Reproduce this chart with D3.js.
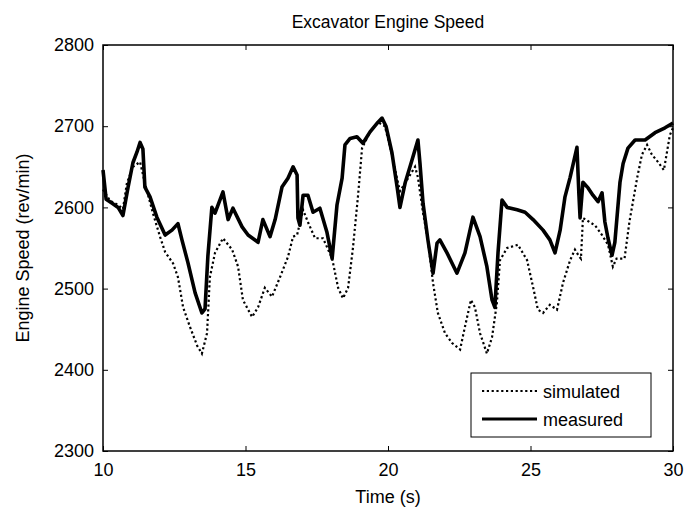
<!DOCTYPE html>
<html>
<head>
<meta charset="utf-8">
<script src="https://cdn.jsdelivr.net/npm/d3@7"></script>
<style>
  body { margin: 0; background: #fff; }
  text { font-family: "Liberation Sans", Arial, sans-serif; fill: #000; }
</style>
</head>
<body>
<svg id="chart" width="685" height="510"></svg>
<script>
// measured engine speed (rev/min) vs time (s)
const measuredTime = [10.00, 10.11, 10.32, 10.53, 10.70, 10.88, 11.05, 11.19, 11.30, 11.40, 11.47, 11.65, 11.89, 12.18, 12.42, 12.63, 12.77, 12.98, 13.23, 13.47, 13.58, 13.68, 13.82, 13.93, 14.21, 14.39, 14.56, 14.88, 15.09, 15.44, 15.61, 15.86, 16.04, 16.28, 16.49, 16.67, 16.81, 16.84, 16.91, 17.02, 17.19, 17.37, 17.61, 17.86, 18.04, 18.21, 18.39, 18.49, 18.67, 18.91, 19.12, 19.37, 19.65, 19.79, 19.93, 20.14, 20.32, 20.42, 20.60, 20.84, 21.05, 21.12, 21.23, 21.40, 21.58, 21.72, 21.82, 22.07, 22.42, 22.70, 22.98, 23.23, 23.47, 23.65, 23.75, 23.86, 24.00, 24.18, 24.53, 24.81, 25.09, 25.44, 25.68, 25.86, 26.04, 26.21, 26.39, 26.63, 26.70, 26.74, 26.84, 27.02, 27.19, 27.37, 27.51, 27.61, 27.72, 27.86, 27.96, 28.14, 28.25, 28.42, 28.67, 29.02, 29.37, 29.72, 30.00];
const measuredSpeed = [2646, 2610, 2605, 2600, 2590, 2625, 2655, 2668, 2680, 2672, 2625, 2613, 2588, 2566, 2572, 2580, 2560, 2532, 2495, 2470, 2475, 2540, 2600, 2593, 2619, 2585, 2599, 2576, 2566, 2557, 2585, 2564, 2585, 2625, 2636, 2650, 2640, 2587, 2578, 2615, 2615, 2594, 2599, 2569, 2537, 2603, 2636, 2677, 2685, 2687, 2679, 2693, 2705, 2710, 2700, 2667, 2625, 2600, 2630, 2658, 2683, 2655, 2605, 2560, 2519, 2556, 2560, 2544, 2519, 2544, 2588, 2564, 2527, 2486, 2477, 2544, 2609, 2600, 2597, 2594, 2585, 2572, 2560, 2544, 2572, 2613, 2637, 2674, 2615, 2587, 2631, 2624, 2615, 2607, 2618, 2582, 2562, 2541, 2557, 2631, 2654, 2673, 2683, 2683, 2692, 2698, 2704];

// simulated engine speed
const simulatedTime = [10.00, 10.25, 10.53, 10.70, 10.84, 11.05, 11.30, 11.47, 11.75, 12.00, 12.18, 12.46, 12.63, 12.81, 13.05, 13.30, 13.47, 13.65, 13.75, 13.93, 14.21, 14.53, 14.74, 14.91, 15.23, 15.44, 15.68, 15.93, 16.21, 16.49, 16.67, 16.81, 17.02, 17.19, 17.44, 17.72, 18.04, 18.25, 18.42, 18.60, 18.77, 18.95, 19.09, 19.37, 19.65, 19.89, 20.14, 20.32, 20.42, 20.60, 20.95, 21.05, 21.23, 21.40, 21.58, 21.75, 22.00, 22.25, 22.53, 22.70, 22.91, 23.05, 23.23, 23.47, 23.65, 23.82, 23.93, 24.18, 24.56, 24.88, 25.09, 25.26, 25.44, 25.68, 25.93, 26.14, 26.39, 26.56, 26.70, 26.77, 26.84, 27.26, 27.51, 27.72, 27.89, 28.02, 28.30, 28.47, 28.74, 28.91, 29.09, 29.26, 29.47, 29.68, 29.89, 30.00];
const simulatedSpeed = [2622, 2608, 2603, 2598, 2630, 2650, 2656, 2630, 2593, 2564, 2545, 2531, 2514, 2477, 2453, 2430, 2420, 2445, 2514, 2544, 2562, 2548, 2527, 2486, 2465, 2477, 2501, 2490, 2514, 2539, 2564, 2566, 2597, 2582, 2562, 2562, 2537, 2501, 2488, 2501, 2550, 2615, 2673, 2693, 2705, 2700, 2665, 2635, 2620, 2630, 2650, 2637, 2593, 2560, 2507, 2470, 2445, 2433, 2425, 2453, 2486, 2477, 2445, 2420, 2440, 2482, 2535, 2550, 2554, 2535, 2502, 2474, 2470, 2480, 2474, 2507, 2535, 2548, 2540, 2537, 2587, 2578, 2566, 2554, 2527, 2537, 2537, 2582, 2636, 2665, 2677, 2665, 2656, 2646, 2689, 2698];

const xTicks = [10, 15, 20, 25, 30];
const yTicks = [2300, 2400, 2500, 2600, 2700, 2800];
const legendLabels = ['simulated', 'measured'];

const margin = {top: 45, right: 12, bottom: 59, left: 103};
const width = 685 - margin.left - margin.right;
const height = 510 - margin.top - margin.bottom;

const svg = d3.select('#chart');
const g = svg.append('g')
    .attr('transform', `translate(${margin.left},${margin.top})`);

const x = d3.scaleLinear().domain([10, 30]).range([0, width]);
const y = d3.scaleLinear().domain([2300, 2800]).range([height, 0]);

// axes, ticks pointing inward like matlab
g.append('g')
    .attr('transform', `translate(0,${height})`)
    .call(d3.axisBottom(x).tickValues(xTicks).tickSize(-5).tickPadding(12).tickFormat(d3.format('d')))
    .call(a => a.select('.domain').remove());
g.append('g')
    .call(d3.axisTop(x).tickValues(xTicks).tickSize(-5).tickFormat(''))
    .call(a => a.select('.domain').remove());
g.append('g')
    .call(d3.axisLeft(y).tickValues(yTicks).tickSize(-5).tickPadding(9).tickFormat(d3.format('d')))
    .call(a => a.select('.domain').remove());
g.append('g')
    .attr('transform', `translate(${width},0)`)
    .call(d3.axisRight(y).tickValues(yTicks).tickSize(-5).tickFormat(''))
    .call(a => a.select('.domain').remove());

g.selectAll('.tick line').attr('stroke', '#000').attr('stroke-width', 1);
g.selectAll('.tick text').style('font-size', '18px').attr('fill', '#000');

const line = d3.line()
    .x(d => x(d[0]))
    .y(d => y(d[1]));

const simulated = d3.zip(simulatedTime, simulatedSpeed);
const measured = d3.zip(measuredTime, measuredSpeed);

g.append('path')
    .datum(simulated)
    .attr('fill', 'none')
    .attr('stroke', '#000')
    .attr('stroke-width', 2.2)
    .attr('stroke-dasharray', '2.2,2.6')
    .attr('d', line);

g.append('path')
    .datum(measured)
    .attr('fill', 'none')
    .attr('stroke', '#000')
    .attr('stroke-width', 3.6)
    .attr('stroke-linejoin', 'round')
    .attr('d', line);

// frame
g.append('rect')
    .attr('width', width)
    .attr('height', height)
    .attr('fill', 'none')
    .attr('stroke', '#000')
    .attr('stroke-width', 1.5);

// legend
const legend = g.append('g').attr('transform', `translate(${width - 202},${height - 78})`);
legend.append('rect')
    .attr('width', 180)
    .attr('height', 64)
    .attr('fill', '#fff')
    .attr('stroke', '#000')
    .attr('stroke-width', 1);
legendLabels.forEach((label, i) => {
    const ly = 18 + i * 28;
    legend.append('line')
        .attr('x1', 11).attr('x2', 66)
        .attr('y1', ly).attr('y2', ly)
        .attr('stroke', '#000')
        .attr('stroke-width', i === 0 ? 2.2 : 3)
        .attr('stroke-dasharray', i === 0 ? '2.2,2.6' : null);
    legend.append('text')
        .attr('x', 72)
        .attr('y', ly + 7)
        .style('font-size', '18px')
        .text(label);
});

// titles
svg.append('text')
    .attr('x', margin.left + width / 2)
    .attr('y', 28)
    .attr('text-anchor', 'middle')
    .style('font-size', '17.5px')
    .text('Excavator Engine Speed');

svg.append('text')
    .attr('x', margin.left + width / 2)
    .attr('y', 503)
    .attr('text-anchor', 'middle')
    .style('font-size', '18px')
    .text('Time (s)');

svg.append('text')
    .attr('transform', `translate(29,${margin.top + height / 2}) rotate(-90)`)
    .attr('text-anchor', 'middle')
    .style('font-size', '18px')
    .text('Engine Speed (rev/min)');
</script>
</body>
</html>
